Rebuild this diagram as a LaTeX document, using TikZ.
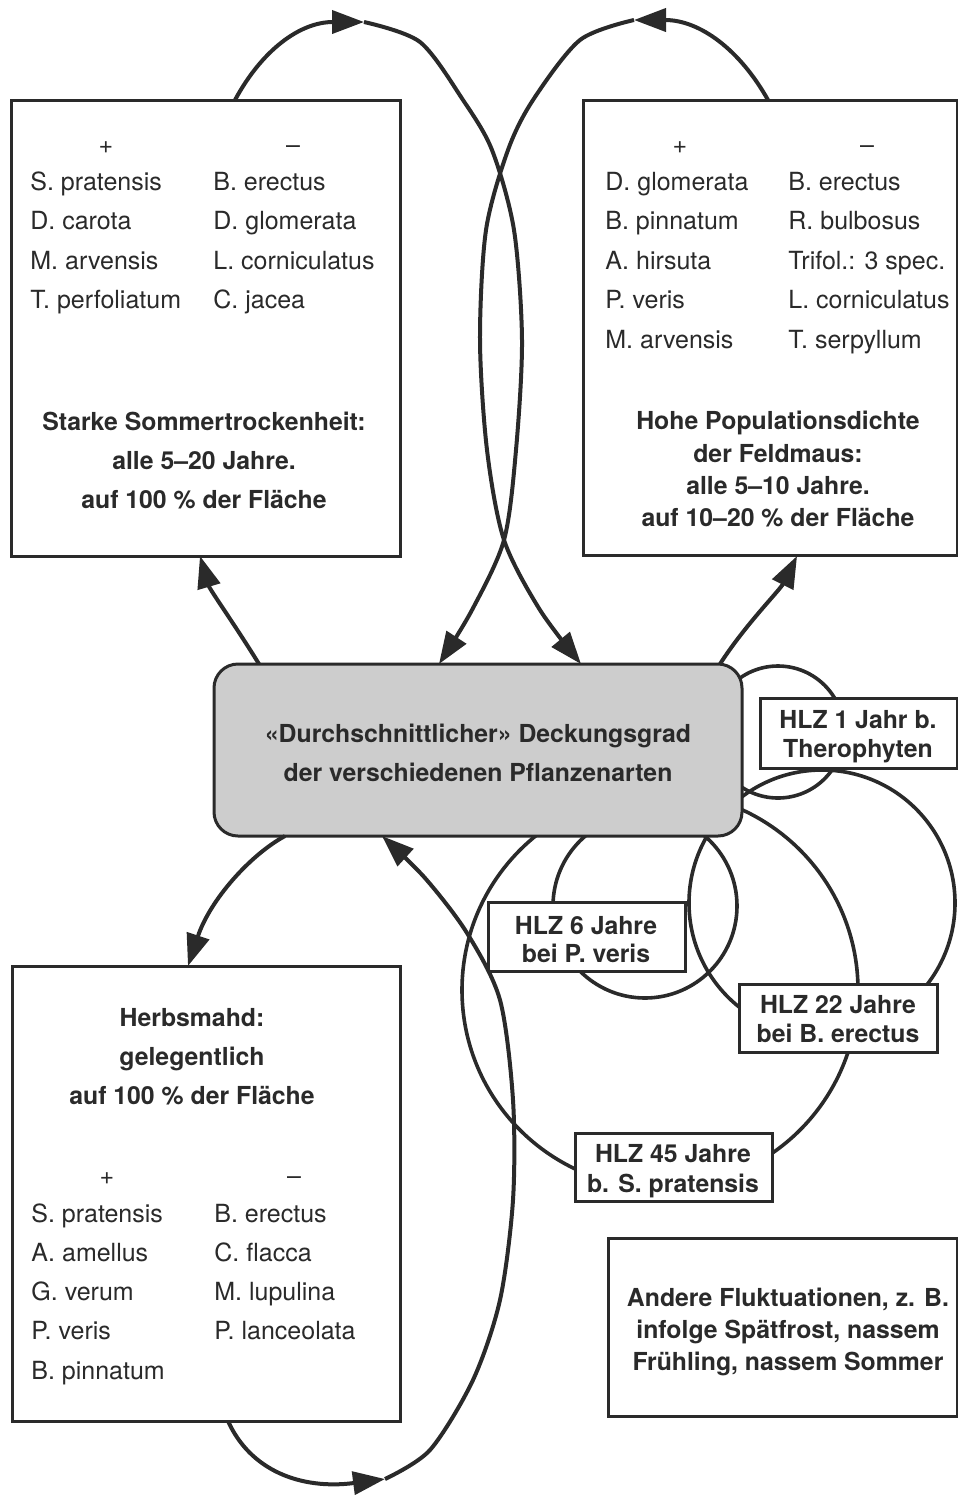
\documentclass[tikz,border=0pt]{standalone}
\usepackage{fontspec}
\setmainfont{TeX Gyre Heros}
\usetikzlibrary{arrows.meta}
\definecolor{ink}{HTML}{2A2A2A}
\definecolor{boxgray}{HTML}{CDCDCD}
\begin{document}
\begin{tikzpicture}[x=0.5pt,y=-0.5pt,
  box/.style={draw=ink, line width=1.5pt, fill=white, inner sep=0pt, rectangle},
  cbox/.style={draw=ink, line width=1.5pt, fill=boxgray, inner sep=0pt, rectangle, rounded corners=12pt},
  ringn/.style={draw=ink, line width=1.8pt, circle, inner sep=0pt},
  lbl/.style={text=ink, font=\fontsize{12.5}{15}\selectfont, inner sep=0pt, anchor=base},
  lbll/.style={lbl, anchor=base west},
  lblb/.style={text=ink, font=\fontsize{12.4}{15}\selectfont\bfseries, inner sep=0pt, anchor=base},
  wire/.style={draw=ink, line width=2pt},
  arr/.style={wire, -{Triangle[length=16pt,width=11.5pt]}}]
\useasboundingbox (0,0) rectangle (958,1495);

% ---------- circles (behind boxes)
\node[ringn, minimum size=66pt]  (r1)  at (778,732) {};
\node[ringn, minimum size=133pt] (r22) at (822,903) {};
\node[ringn, minimum size=92pt]  (r6)  at (645,906) {};
\node[ringn, minimum size=198pt] (r45) at (660,990) {};

% ---------- boxes
\node[box, minimum width=194.5pt, minimum height=228pt] (tl) at (205.5,328) {};
\node[box, minimum width=187pt, minimum height=227.5pt] (tr) at (770,327.5) {};
\node[cbox, minimum width=264pt, minimum height=86pt] (cm) at (478,750) {};
\node[box, minimum width=194pt, minimum height=227.5pt] (bl) at (206,1193.5) {};
\node[box, minimum width=98.5pt, minimum height=35pt] (h1) at (858.5,733) {};
\node[box, minimum width=98.5pt, minimum height=34.5pt] (h6) at (586.5,936.5) {};
\node[box, minimum width=99pt, minimum height=34pt] (h22) at (838,1018) {};
\node[box, minimum width=98.5pt, minimum height=34pt] (h45) at (673.5,1167) {};
\node[box, minimum width=174.5pt, minimum height=89pt] (ot) at (782.5,1327) {};

% ---------- connector end points
\coordinate (cTL) at (259,664);  \coordinate (tlB) at (200,556);
\coordinate (tlT) at (235,100);  \coordinate (apL) at (364,22);
\coordinate (cL)  at (439,664);
\coordinate (cTR) at (720,664);  \coordinate (trB) at (797,556);
\coordinate (trT) at (768,100);  \coordinate (apR) at (634,20);
\coordinate (cR)  at (581,664);
\coordinate (cBL) at (285,836);  \coordinate (blT) at (188,966);
\coordinate (blB) at (228,1421); \coordinate (apB) at (385,1479);
\coordinate (cB)  at (382,836);

% ---------- top-left cycle
\draw[arr] (cTL) .. controls (235,625) and (210,590) .. (tlB);
\draw[arr] (tlT) .. controls (262,50) and (300,22) .. (apL);
\draw[arr] plot[smooth] coordinates {(apL) (420,42) (463,100) (492,150) (514,230) (522,340) (516,450) (504,540) (472,610) (cL)};

% ---------- top-right cycle
\draw[arr] (cTR) .. controls (745,625) and (780,590) .. (trB);
\draw[arr] (trT) .. controls (740,50) and (700,20) .. (apR);
\draw[arr] plot[smooth] coordinates {(apR) (580,40) (533,100) (508,150) (486,230) (480,340) (487,450) (504,540) (540,610) (cR)};

% ---------- bottom-left cycle
\draw[arr] (cBL) .. controls (250,855) and (210,900) .. (blT);
\draw[arr] (blB) .. controls (250,1470) and (300,1490) .. (apB);
\draw[arr] plot[smooth] coordinates {(apB) (430,1450) (473,1380) (500,1300) (513,1200) (513,1100) (500,1000) (467,933) (425,878) (cB)};

% ---------- top-left box text
\node[lbl] (tlp) at (106,153) {+};
\node[lbl] (tlm) at (293,153) {–};
\foreach \t [count=\i] in {S. pratensis, D. carota, M. arvensis, T. perfoliatum}
  \node[lbll] (tla\i) at (30,{150.5+39.5*\i}) {\t};
\foreach \t [count=\i] in {B. erectus, D. glomerata, L. corniculatus, C. jacea}
  \node[lbll] (tlb\i) at (213,{150.5+39.5*\i}) {\t};
\node[lblb] (tlx1) at (204,430) {Starke Sommertrockenheit:};
\node[lblb] (tlx2) at (204,469) {alle 5–20 Jahre.};
\node[lblb] (tlx3) at (204,508) {auf 100 \% der Fläche};

% ---------- top-right box text
\node[lbl] (trp) at (680,153) {+};
\node[lbl] (trm) at (867,153) {–};
\foreach \t [count=\i] in {D. glomerata, B. pinnatum, A. hirsuta, P. veris, M. arvensis}
  \node[lbll] (tra\i) at (605,{150.5+39.5*\i}) {\t};
\foreach \t [count=\i] in {B. erectus, R. bulbosus, Trifol.: 3 spec., L. corniculatus, T. serpyllum}
  \node[lbll] (trb\i) at (788,{150.5+39.5*\i}) {\t};
\node[lblb] (trx1) at (778,429) {Hohe Populationsdichte};
\node[lblb] (trx2) at (778,462) {der Feldmaus:};
\node[lblb] (trx3) at (778,494) {alle 5–10 Jahre.};
\node[lblb] (trx4) at (778,526) {auf 10–20 \% der Fläche};

% ---------- centre box text
\node[lblb] (cmx1) at (478,742) {«Durchschnittlicher» Deckungsgrad};
\node[lblb] (cmx2) at (478,781) {der verschiedenen Pflanzenarten};

% ---------- HLZ labels
\node[lblb] (h1a) at (858,728) {HLZ 1 Jahr b.};
\node[lblb] (h1b) at (858,757) {Therophyten};
\node[lblb] (h6a) at (586,934) {HLZ 6 Jahre};
\node[lblb] (h6b) at (586,962) {bei P. veris};
\node[lblb] (h22a) at (838,1013) {HLZ 22 Jahre};
\node[lblb] (h22b) at (838,1042) {bei B. erectus};
\node[lblb] (h45a) at (673,1162) {HLZ 45 Jahre};
\node[lblb] (h45b) at (673,1192) {b. S. pratensis};

% ---------- bottom-left box text
\node[lblb] (blx1) at (192,1026) {Herbsmahd:};
\node[lblb] (blx2) at (192,1065) {gelegentlich};
\node[lblb] (blx3) at (192,1104) {auf 100 \% der Fläche};
\node[lbl] (blp) at (107,1184) {+};
\node[lbl] (blm) at (294,1184) {–};
\foreach \t [count=\i] in {S. pratensis, A. amellus, G. verum, P. veris, B. pinnatum}
  \node[lbll] (bla\i) at (31,{1182.75+39.25*\i}) {\t};
\foreach \t [count=\i] in {B. erectus, C. flacca, M. lupulina, P. lanceolata}
  \node[lbll] (blb\i) at (214,{1182.75+39.25*\i}) {\t};

% ---------- other fluctuations
\node[lblb] (ot1) at (788,1306) {Andere Fluktuationen, z. B.};
\node[lblb] (ot2) at (788,1338) {infolge Spätfrost, nassem};
\node[lblb] (ot3) at (788,1370) {Frühling, nassem Sommer};
\end{tikzpicture}
\end{document}
